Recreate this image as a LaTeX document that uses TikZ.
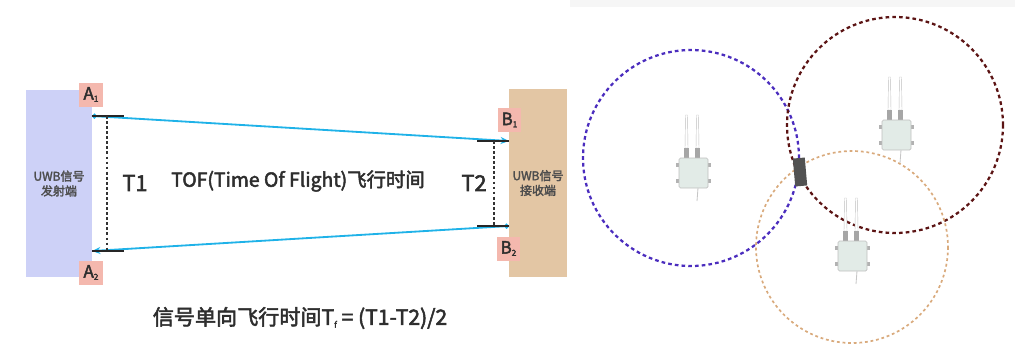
\documentclass[tikz,border=0pt]{standalone}
\usepackage{fontspec}
\setmainfont{Noto Sans CJK SC}[FakeBold=2.5]
\usetikzlibrary{arrows.meta}

\definecolor{sendbg}{HTML}{CDD1F7}
\definecolor{recvbg}{HTML}{E3C6A4}
\definecolor{portbg}{HTML}{F4B8AE}
\definecolor{sigblue}{HTML}{1FB2E8}
\definecolor{ringA}{HTML}{4B2DBE}
\definecolor{ringB}{HTML}{5C1414}
\definecolor{ringC}{HTML}{D9AA7C}
\definecolor{apbody}{HTML}{E2EBE7}
\definecolor{txt}{HTML}{2E2E2E}

\newcommand{\sub}[1]{\raisebox{-0.25ex}{\fontsize{6}{6}\selectfont #1}}

\tikzset{
  endpoint/.style={inner sep=0pt, text=txt!85, align=center,
    font=\fontsize{8.5}{10.5}\selectfont},
  port/.style={fill=portbg, inner sep=0pt, minimum width=0.62cm,
    minimum height=0.6cm, text=txt, font=\fontsize{12}{12}\selectfont},
  signal/.style={sigblue, line width=1.3pt},
  tick/.style={black!85, line width=1.2pt},
  span/.style={black!80, line width=0.8pt, dash pattern=on 2pt off 1.6pt},
  label/.style={text=txt, inner sep=0pt},
  ring/.style={line width=1.6pt, dash pattern=on 2.6pt off 2.2pt},
}

\begin{document}
\begin{tikzpicture}[x=0.025cm, y=-0.025cm]
  \useasboundingbox (0,0) rectangle (1015,345);

  % sender and receiver blocks
  \node[endpoint, fill=sendbg, minimum width=1.65cm, minimum height=4.675cm]
    (tx) at (59,183.5) {UWB信号\\发射端};
  \node[endpoint, fill=recvbg, minimum width=1.45cm, minimum height=4.7cm]
    (rx) at (538,183) {UWB信号\\接收端};

  \node[port] (A1) at (91,94.5) {A\sub{1}};
  \node[port] (A2) at (91,272.5) {A\sub{2}};
  \node[port, minimum width=0.58cm] (B1) at (509.5,120) {B\sub{1}};
  \node[port, minimum width=0.58cm] (B2) at (508.5,248.5) {B\sub{2}};

  % signal ends on both sides
  \coordinate (a1) at (92,116);
  \coordinate (a2) at (92,251);
  \coordinate (b1) at (509,141);
  \coordinate (b2) at (509,226);
  \coordinate (a1e) at (124,116);
  \coordinate (a2e) at (124,251);
  \coordinate (b1e) at (477,141);
  \coordinate (b2e) at (477,226);
  \coordinate (t1top) at (107,116);
  \coordinate (t1bot) at (107,251);
  \coordinate (t2top) at (494,141);
  \coordinate (t2bot) at (494,226);

  \draw[signal, {Circle[length=3.5pt]}-{Stealth[length=6pt,width=5pt]}] (a1) -- (b1);
  \draw[signal, {Circle[length=3.5pt]}-{Stealth[length=6pt,width=5pt]}] (b2) -- (a2);
  \draw[tick] (a1) -- (a1e);
  \draw[tick] (a2) -- (a2e);
  \draw[tick] (b1) -- (b1e);
  \draw[tick] (b2) -- (b2e);
  \draw[span] (t1top) -- (t1bot);
  \draw[span] (t2top) -- (t2bot);

  \node[label, font=\fontsize{15.5}{15.5}\selectfont] (T1) at (135,183) {T1};
  \node[label, font=\fontsize{15.5}{15.5}\selectfont] (T2) at (474,183) {T2};
  \node[label, font=\fontsize{13.8}{13.8}\selectfont] (tof) at (298,181)
    {TOF(Time Of Flight)飞行时间};
  \node[label, font=\fontsize{15}{15}\selectfont] (tf) at (300,318)
    {信号单向飞行时间T\sub{f} = (T1-T2)/2};

  % positioning scene
  \fill[gray!7] (570,0) rectangle (1015,7);

  \draw[ring, ringA] (691,158) circle [radius=108];
  \draw[ring, ringB] (895,125) circle [radius=108];
  \draw[ring, ringC, line width=1.2pt, dash pattern=on 2pt off 2pt]
    (852,247) circle [radius=96];

  \foreach \cx/\cy in {693/173, 896/135, 852/256} {
    \begin{scope}[shift={(\cx,\cy)}]
      % antennas
      \draw[gray!50, fill=white, line width=0.3pt]
        (-7.5,-58) -- (-5.5,-58) -- (-5,-25) -- (-8,-25) -- cycle;
      \draw[gray!50, fill=white, line width=0.3pt]
        (3.5,-58) -- (5.5,-58) -- (6,-25) -- (3,-25) -- cycle;
      \fill[gray!70] (-9,-25) rectangle (-4,-15);
      \fill[gray!70] (2,-25) rectangle (7,-15);
      % mounting ears
      \fill[gray!60] (-17,-10) rectangle (-14,-6);
      \fill[gray!60] (-17,6) rectangle (-14,10);
      \fill[gray!60] (15,-10) rectangle (18,-6);
      \fill[gray!60] (15,6) rectangle (18,10);
      % housing
      \draw[gray!50, fill=apbody, line width=0.4pt, rounded corners=1pt]
        (-14,-15) rectangle (15,15);
      % cable
      \draw[gray!45, line width=0.6pt] (5,15) -- (4,28);
    \end{scope}
  }

  % tag
  \node[fill=black!68, rotate=5, minimum width=0.3cm, minimum height=0.7cm,
    inner sep=0pt] (tag) at (800,172) {};
\end{tikzpicture}
\end{document}
